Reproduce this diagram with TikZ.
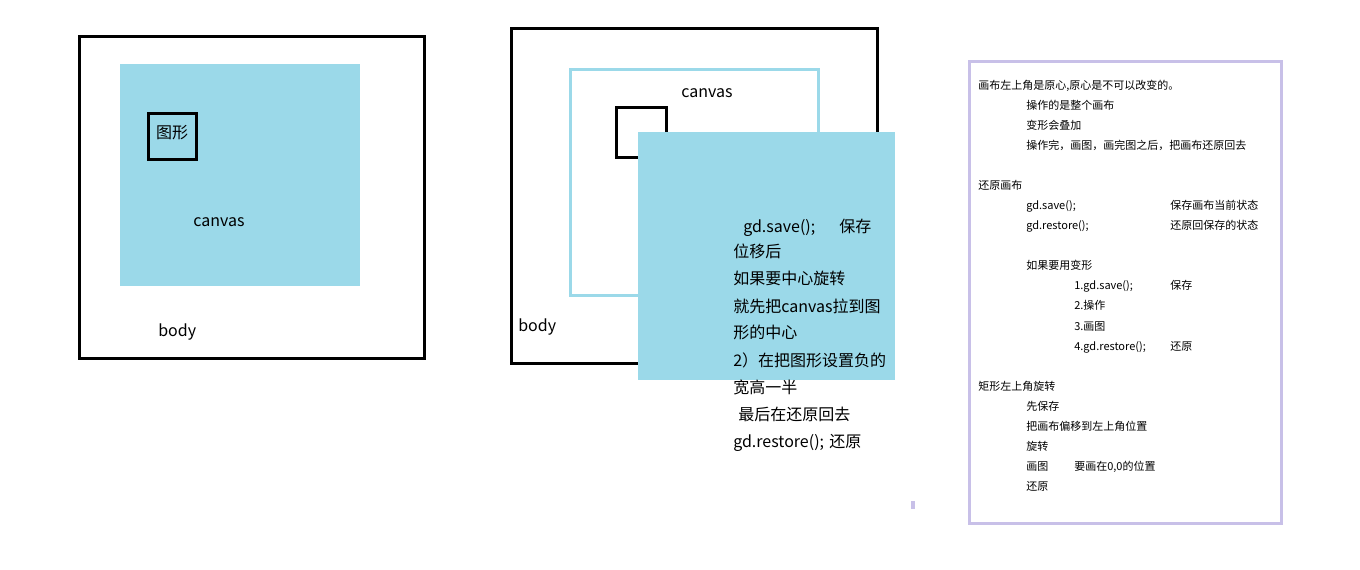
\documentclass[tikz,border=0pt]{standalone}
\usepackage{fontspec}
\setmainfont{Noto Sans CJK SC}
\usetikzlibrary{positioning}
\definecolor{CanvasBlue}{RGB}{155,217,233}
\definecolor{NoteLilac}{RGB}{200,192,232}
\tikzset{
  frame/.style={draw=black, line width=2.25pt},
  canvasfill/.style={fill=CanvasBlue},
  canvasline/.style={draw=CanvasBlue, line width=2.25pt},
  bigtext/.style={font=\fontsize{12}{14}\selectfont, inner sep=0pt},
  notetext/.style={font=\fontsize{8.25}{10}\selectfont, inner sep=0pt, anchor=base west},
}
\begin{document}
\begin{tikzpicture}[x=0.75pt, y=-0.75pt]
\useasboundingbox (0,0) rectangle (1360,570);

% left panel: canvas inside body
\draw[frame] (79,36.5) rectangle (424.5,358.5);
\fill[canvasfill] (120,64) rectangle (360,286);
\draw[frame] (148.5,113.5) rectangle (196,159.5);
\node[bigtext] (shapeA) at (172,133) {图形};
\node[bigtext] (canvasA) at (219,222) {canvas};
\node[bigtext, anchor=west] (bodyA) at (158,332) {body};

% middle panel: canvas moved
\draw[frame] (511,29) rectangle (877,363);
\draw[canvasline] (570,70) rectangle (818,296);
\draw[frame] (616,108) rectangle (666,158);
\fill[canvasfill] (638,132) rectangle (895,380);
\node[bigtext] (canvasB) at (707,93) {canvas};
\node[bigtext, anchor=west] (bodyB) at (518,327) {body};
\foreach \x/\y/\t [count=\i] in {
  743/227/{\makebox[72pt][l]{gd.save();}保存},
  733/252/{位移后},
  733/279/{如果要中心旋转},
  733/306/{就先把canvas拉到图},
  733/333/{形的中心},
  733/360/{2）在把图形设置负的},
  733/387/{宽高一半},
  738/414/{最后在还原回去},
  733/441/{\makebox[72pt][l]{gd.restore();}还原}}
  \node[bigtext, anchor=base west] (step\i) at (\x,\y+6) {\t};

% notes
\fill[NoteLilac] (911,501) rectangle (915,509);
\draw[NoteLilac, line width=2.25pt] (969.5,61.5) rectangle (1281.5,523);
\foreach \x/\y/\t [count=\i] in {
  978/86/{画布左上角是原心,原心是不可以改变的。},
  1026/106/{操作的是整个画布},
  1026/126/{变形会叠加},
  1026/146/{操作完，画图，画完图之后，把画布还原回去},
  978/186/{还原画布},
  1026/206/{gd.save();},
  1170/206/{保存画布当前状态},
  1026/226/{gd.restore();},
  1170/226/{还原回保存的状态},
  1026/266/{如果要用变形},
  1074/286/{1.gd.save();},
  1170/286/{保存},
  1074/306/{2.操作},
  1074/326/{3.画图},
  1074/346/{4.gd.restore();},
  1170/346/{还原},
  978/386/{矩形左上角旋转},
  1026/406/{先保存},
  1026/426/{把画布偏移到左上角位置},
  1026/446/{旋转},
  1026/466/{画图},
  1074/466/{要画在0,0的位置},
  1026/486/{还原}}
  \node[notetext] (note\i) at (\x,\y+4) {\t};
\end{tikzpicture}
\end{document}
